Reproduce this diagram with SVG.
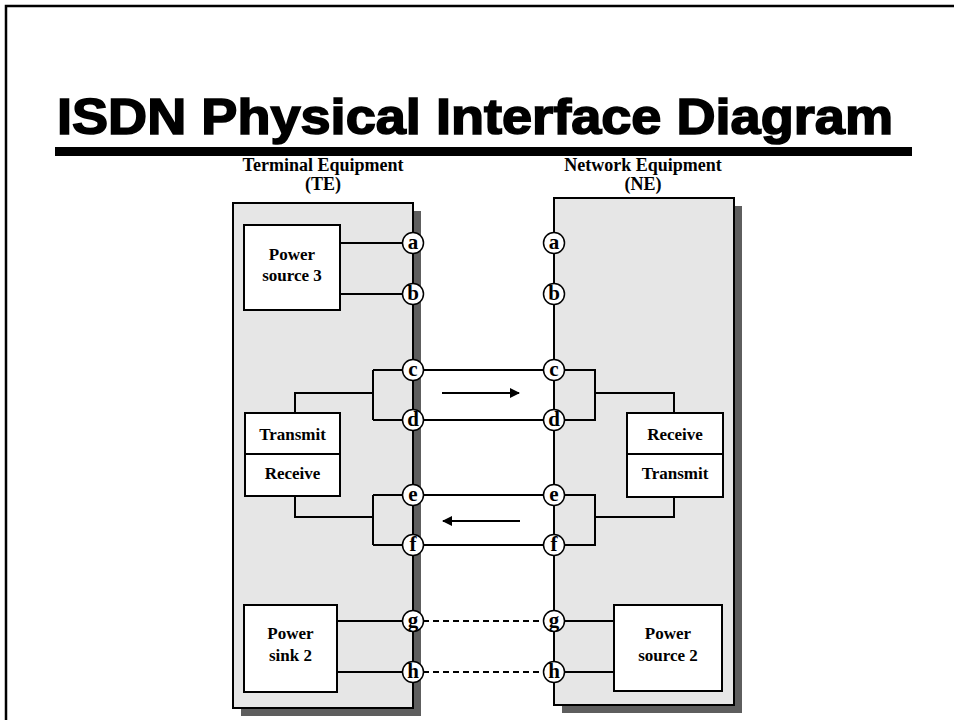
<svg xmlns="http://www.w3.org/2000/svg" width="954" height="720" viewBox="0 0 954 720">
<style>
.frame{fill:none;stroke:#000;stroke-width:2.5}
.title{font-family:"Liberation Sans",Arial,sans-serif;font-weight:bold;font-size:50px;fill:#000;stroke:#000;stroke-width:1.6}
.hdr{font-family:"Liberation Serif","Times New Roman",serif;font-weight:bold;font-size:18px;fill:#000;text-anchor:middle}
.lbl{font-family:"Liberation Serif","Times New Roman",serif;font-weight:bold;font-size:17px;fill:#000;text-anchor:middle}
.pin{font-family:"Liberation Serif","Times New Roman",serif;font-weight:bold;font-size:21px;fill:#000;text-anchor:middle}
.eq{fill:#e6e6e6;stroke:#000;stroke-width:2}
.shadow{fill:#5e5e5e}
.box{fill:#fff;stroke:#000;stroke-width:2}
.circ{fill:#fff;stroke:#000;stroke-width:1.5}
.w{fill:none;stroke:#000;stroke-width:2}
.dash{fill:none;stroke:#000;stroke-width:2;stroke-dasharray:6 4}
</style>
<defs>
<marker id="ah" viewBox="0 0 10 10" refX="9" refY="5" markerWidth="10" markerHeight="10" markerUnits="userSpaceOnUse" orient="auto">
<path d="M0,0 L10,5 L0,10 Z" fill="#000"/>
</marker>
</defs>
<rect width="954" height="720" fill="#fff"/>
<path class="frame" d="M6,720 L6,6 L954,6"/>
<g id="title">
<text class="title" x="57" y="134" textLength="836" lengthAdjust="spacingAndGlyphs">ISDN Physical Interface Diagram</text>
<rect x="55" y="147" width="857" height="9" fill="#000"/>
</g>
<g id="te-header">
<text class="hdr" x="323" y="171">Terminal Equipment</text>
<text class="hdr" x="323" y="190">(TE)</text>
</g>
<g id="ne-header">
<text class="hdr" x="643" y="171">Network Equipment</text>
<text class="hdr" x="643" y="190">(NE)</text>
</g>
<g id="te">
<rect class="shadow" x="241" y="211" width="180" height="505"/>
<rect class="eq" x="233" y="203" width="180" height="505"/>
</g>
<g id="ne">
<rect class="shadow" x="562" y="206" width="180" height="507"/>
<rect class="eq" x="554" y="198" width="180" height="507"/>
</g>
<g id="connectors">
<path class="w" d="M340,243 H413 M340,294 H413"/>
<path class="w" d="M295,412 V393 H373 M373,370 V420 M373,370 H413 M373,420 H413"/>
<path class="w" d="M295,496 V517 H373 M373,495 V545 M373,495 H413 M373,545 H413"/>
<path class="w" d="M413,370 H554 M413,420 H554 M413,495 H554 M413,545 H554"/>
<path class="dash" d="M423,621 H544 M423,672 H544"/>
<path class="w" d="M554,370 H595 V420 H554 M595,393 H674 V413"/>
<path class="w" d="M554,495 H595 V545 H554 M595,517 H674 V497"/>
<path class="w" d="M337,621 H413 M337,672 H413"/>
<path class="w" d="M554,621 H614 M554,672 H614"/>
<line class="w" x1="442" y1="393" x2="519" y2="393" marker-end="url(#ah)"/>
<line class="w" x1="520" y1="521" x2="443" y2="521" marker-end="url(#ah)"/>
</g>
<g id="power-source-3">
<rect class="box" x="244" y="225" width="96" height="85"/>
<text class="lbl" x="292" y="260">Power</text>
<text class="lbl" x="292" y="281">source 3</text>
</g>
<g id="te-transmit-receive">
<rect class="box" x="245" y="413" width="95" height="83"/>
<line class="w" x1="245" y1="454" x2="340" y2="454"/>
<text class="lbl" x="292.5" y="440">Transmit</text>
<text class="lbl" x="292.5" y="479">Receive</text>
</g>
<g id="ne-receive-transmit">
<rect class="box" x="627" y="413" width="96" height="84"/>
<line class="w" x1="627" y1="454" x2="723" y2="454"/>
<text class="lbl" x="675" y="440">Receive</text>
<text class="lbl" x="675" y="479">Transmit</text>
</g>
<g id="power-sink-2">
<rect class="box" x="244" y="605" width="93" height="87"/>
<text class="lbl" x="290.5" y="639">Power</text>
<text class="lbl" x="290.5" y="661">sink 2</text>
</g>
<g id="power-source-2">
<rect class="box" x="614" y="605" width="108" height="86"/>
<text class="lbl" x="668" y="639">Power</text>
<text class="lbl" x="668" y="661">source 2</text>
</g>
<g id="te-pins">
<circle class="circ" cx="413" cy="243" r="10.5"/><text class="pin" x="413" y="249">a</text>
<circle class="circ" cx="413" cy="294" r="10.5"/><text class="pin" x="413" y="300">b</text>
<circle class="circ" cx="413" cy="370" r="10.5"/><text class="pin" x="413" y="376">c</text>
<circle class="circ" cx="413" cy="420" r="10.5"/><text class="pin" x="413" y="426">d</text>
<circle class="circ" cx="413" cy="495" r="10.5"/><text class="pin" x="413" y="501">e</text>
<circle class="circ" cx="413" cy="545" r="10.5"/><text class="pin" x="413" y="551">f</text>
<circle class="circ" cx="413" cy="621" r="10.5"/><text class="pin" x="413" y="627">g</text>
<circle class="circ" cx="413" cy="672" r="10.5"/><text class="pin" x="413" y="678">h</text>
</g>
<g id="ne-pins">
<circle class="circ" cx="554" cy="243" r="10.5"/><text class="pin" x="554" y="249">a</text>
<circle class="circ" cx="554" cy="294" r="10.5"/><text class="pin" x="554" y="300">b</text>
<circle class="circ" cx="554" cy="370" r="10.5"/><text class="pin" x="554" y="376">c</text>
<circle class="circ" cx="554" cy="420" r="10.5"/><text class="pin" x="554" y="426">d</text>
<circle class="circ" cx="554" cy="495" r="10.5"/><text class="pin" x="554" y="501">e</text>
<circle class="circ" cx="554" cy="545" r="10.5"/><text class="pin" x="554" y="551">f</text>
<circle class="circ" cx="554" cy="621" r="10.5"/><text class="pin" x="554" y="627">g</text>
<circle class="circ" cx="554" cy="672" r="10.5"/><text class="pin" x="554" y="678">h</text>
</g>
</svg>
